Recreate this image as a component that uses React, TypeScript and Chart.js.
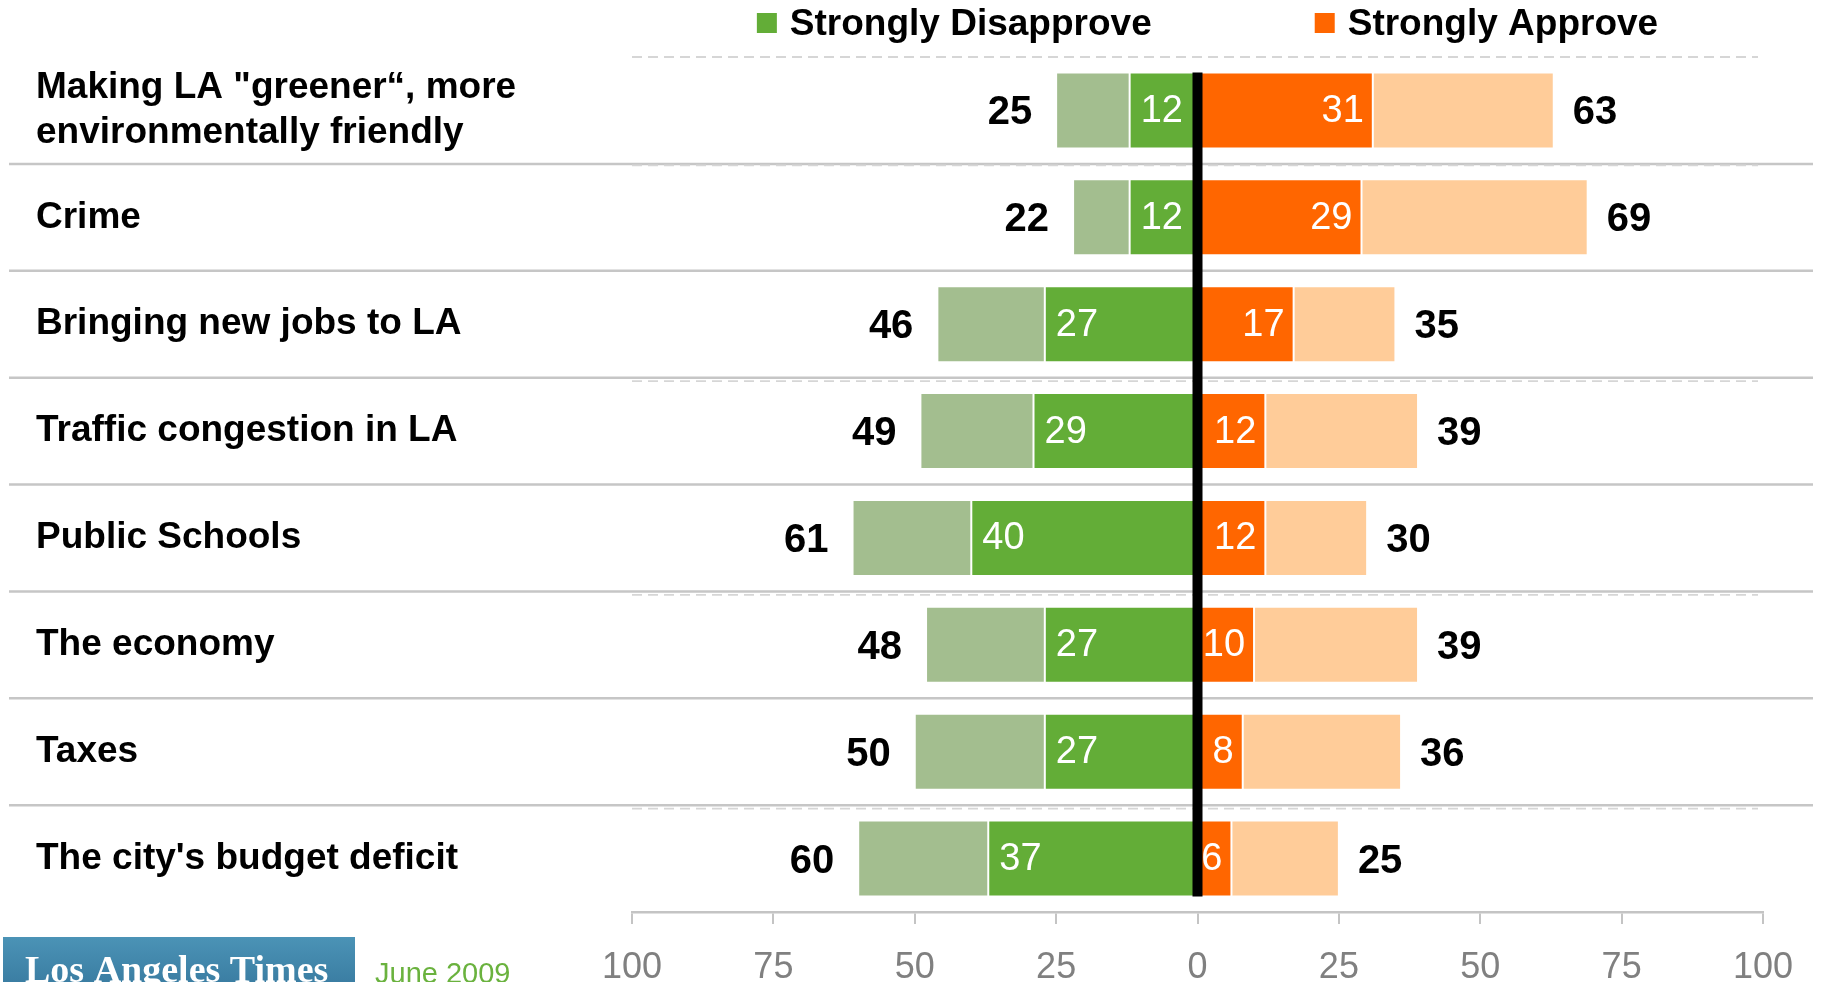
import React, { useEffect, useRef } from "react";
import { Chart, registerables } from "chart.js";

Chart.register(...registerables);

// ---------- data ----------
const categories: (string | string[])[] = [
  ['Making LA "greener“, more', "environmentally friendly"],
  "Crime",
  "Bringing new jobs to LA",
  "Traffic congestion in LA",
  "Public Schools",
  "The economy",
  "Taxes",
  "The city's budget deficit",
];
const totalDisapprove = [25, 22, 46, 49, 61, 48, 50, 60];
const strongDisapprove = [12, 12, 27, 29, 40, 27, 27, 37];
const strongApprove = [31, 29, 17, 12, 12, 10, 8, 6];
const totalApprove = [63, 69, 35, 39, 30, 39, 36, 25];
const xTickValues = [-100, -75, -50, -25, 0, 25, 50, 75, 100];
const legendLabels = ["Strongly Disapprove", "Strongly Approve"];
const sourceText = "Los Angeles Times";
const dateText = "June 2009";

// ---------- styles ----------
const DARK_GREEN = "#63ad37";
const LIGHT_GREEN = "#a3be8f";
const ORANGE = "#ff6600";
const LIGHT_ORANGE = "#ffcc99";
const FONT = "'Liberation Sans', Arial, Helvetica, sans-serif";

const W = 1822;
const H = 982;

const decorPlugin = {
  id: "decor",
  beforeDatasetsDraw(chart: any) {
    const { ctx, chartArea, scales } = chart;
    const y = scales.y;
    const n = categories.length;
    const step = n > 1 ? y.getPixelForValue(1) - y.getPixelForValue(0) : 0;
    ctx.save();
    // solid separators between rows
    ctx.strokeStyle = "#c6c6c6";
    ctx.lineWidth = 2.5;
    for (let i = 0; i < n - 1; i++) {
      const py = y.getPixelForValue(i) + step / 2;
      ctx.beginPath();
      ctx.moveTo(9, py);
      ctx.lineTo(1813, py);
      ctx.stroke();
    }
    // dashed guide lines
    ctx.strokeStyle = "#d6d6d6";
    ctx.lineWidth = 1.8;
    ctx.setLineDash([10, 6]);
    const dashed: [number, number][] = [
      [-1, 0],
      [0, 1.5],
      [2, 3.5],
      [4, 3.5],
      [6, 3.5],
    ];
    for (const [i, off] of dashed) {
      const py = y.getPixelForValue(i) + step / 2 + off;
      ctx.beginPath();
      ctx.moveTo(chartArea.left, py);
      ctx.lineTo(chartArea.right - 5, py);
      ctx.stroke();
    }
    ctx.restore();
  },
  afterDatasetsDraw(chart: any) {
    const { ctx, scales } = chart;
    const x = scales.x;
    const y = scales.y;
    ctx.save();
    // inner labels (strong values)
    ctx.fillStyle = "#ffffff";
    ctx.font = `38px ${FONT}`;
    ctx.textBaseline = "middle";
    categories.forEach((_, i) => {
      const cy = y.getPixelForValue(i) + 1;
      ctx.textAlign = "left";
      ctx.fillText(String(strongDisapprove[i]), x.getPixelForValue(-strongDisapprove[i]) + 11, cy);
      ctx.textAlign = "right";
      ctx.fillText(String(strongApprove[i]), x.getPixelForValue(strongApprove[i]) - 9, cy);
    });
    // totals
    ctx.fillStyle = "#000000";
    ctx.font = `bold 40px ${FONT}`;
    categories.forEach((_, i) => {
      const cy = y.getPixelForValue(i) + 3;
      ctx.textAlign = "right";
      ctx.fillText(String(totalDisapprove[i]), x.getPixelForValue(-totalDisapprove[i]) - 24, cy);
      ctx.textAlign = "left";
      ctx.fillText(String(totalApprove[i]), x.getPixelForValue(totalApprove[i]) + 19, cy);
    });
    // zero line
    const meta0 = chart.getDatasetMeta(0);
    const first = meta0.data[0];
    const last = meta0.data[meta0.data.length - 1];
    const top = first.y - first.height / 2;
    const bottom = last.y + last.height / 2;
    const zx = x.getPixelForValue(0);
    ctx.fillStyle = "#000000";
    ctx.fillRect(zx - 5, top, 10, bottom - top);
    ctx.restore();
  },
  afterDraw(chart: any) {
    const { ctx, scales } = chart;
    const x = scales.x;
    ctx.save();
    // legend
    ctx.font = `bold 37px ${FONT}`;
    ctx.textBaseline = "alphabetic";
    ctx.textAlign = "left";
    const box = 20;
    const boxGap = 13;
    const itemGap = 163;
    const colors = [DARK_GREEN, ORANGE];
    const widths = legendLabels.map((l) => ctx.measureText(l).width);
    const total = widths.reduce((a, b) => a + b, 0) + legendLabels.length * (box + boxGap) + itemGap;
    let lx = x.getPixelForValue(0) - total / 2 + 10;
    legendLabels.forEach((l, i) => {
      ctx.fillStyle = colors[i];
      ctx.fillRect(lx, 13, box, box);
      ctx.fillStyle = "#000000";
      ctx.fillText(l, lx + box + boxGap, 35);
      lx += box + boxGap + widths[i] + itemGap;
    });
    // source logo
    const g = ctx.createLinearGradient(0, 937, 0, 982);
    g.addColorStop(0, "#4b93b6");
    g.addColorStop(1, "#3b7ea3");
    ctx.fillStyle = g;
    ctx.fillRect(3, 937, 352, 60);
    ctx.fillStyle = "#ffffff";
    ctx.font = `bold 38px 'Liberation Serif', 'DejaVu Serif', serif`;
    ctx.fillText(sourceText, 25, 982);
    // date
    ctx.fillStyle = "#6ab23e";
    ctx.font = `29px ${FONT}`;
    ctx.fillText(dateText, 375, 983);
    ctx.restore();
  },
};

export default function App() {
  const ref = useRef<HTMLCanvasElement | null>(null);

  useEffect(() => {
    if (!ref.current) return;
    const chart = new Chart(ref.current, {
      type: "bar",
      data: {
        labels: categories,
        datasets: [
          {
            label: legendLabels[0],
            data: strongDisapprove.map((v) => -v),
            backgroundColor: DARK_GREEN,
          },
          {
            label: "Disapprove",
            data: totalDisapprove.map((t, i) => -(t - strongDisapprove[i])),
            backgroundColor: LIGHT_GREEN,
          },
          {
            label: legendLabels[1],
            data: strongApprove,
            backgroundColor: ORANGE,
          },
          {
            label: "Approve",
            data: totalApprove.map((t, i) => t - strongApprove[i]),
            backgroundColor: LIGHT_ORANGE,
          },
        ],
      },
      options: {
        indexAxis: "y",
        responsive: false,
        maintainAspectRatio: false,
        animation: false,
        devicePixelRatio: 1,
        datasets: {
          bar: {
            barPercentage: 0.71,
            categoryPercentage: 1,
            borderWidth: 1,
            borderColor: "#ffffff",
            borderSkipped: false,
          },
        },
        layout: { padding: { left: 36, right: 59, top: 57, bottom: 0 } },
        plugins: {
          legend: { display: false },
          tooltip: { enabled: false },
        },
        scales: {
          x: {
            stacked: true,
            min: -100,
            max: 100,
            afterBuildTicks: (s: any) => {
              s.ticks = xTickValues.map((v) => ({ value: v }));
            },
            afterFit: (s: any) => {
              s.height = 70;
            },
            grid: {
              drawOnChartArea: false,
              drawTicks: true,
              tickLength: 12,
              color: "#c4c4c4",
              lineWidth: 2,
            },
            border: { display: true, color: "#c4c4c4", width: 2.5 },
            ticks: {
              autoSkip: false,
              maxRotation: 0,
              padding: 22,
              color: "#808080",
              font: { family: FONT, size: 36 },
              callback: (v: any) => String(Math.abs(Number(v))),
            },
          },
          y: {
            stacked: true,
            grid: { display: false },
            border: { display: false },
            afterFit: (s: any) => {
              s.width = 596;
            },
            ticks: {
              crossAlign: "far",
              padding: 0,
              color: "#000000",
              font: { family: FONT, size: 37, weight: "bold", lineHeight: 1.2 },
            },
          },
        },
      },
      plugins: [decorPlugin],
    } as any);
    return () => chart.destroy();
  }, []);

  return (
    <div
      style={{
        position: "fixed",
        left: 0,
        top: 0,
        width: W,
        height: H,
        overflow: "hidden",
        background: "#ffffff",
      }}
    >
      <canvas ref={ref} width={W} height={H} style={{ display: "block", width: W, height: H }} />
    </div>
  );
}
